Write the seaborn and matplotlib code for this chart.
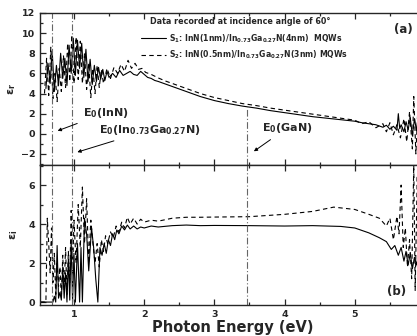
import numpy as np
import pandas as pd
import matplotlib
matplotlib.use("Agg")
import matplotlib.pyplot as plt
import seaborn as sns

# ---------------- data ----------------
er1_x = [0.60, 0.63, 0.66, 0.69, 0.72, 0.75, 0.78, 0.81, 0.84, 0.87, 0.90, 0.93, 0.96, 0.99,
         1.02, 1.05, 1.08, 1.11, 1.14, 1.17, 1.20, 1.23, 1.26, 1.29, 1.32, 1.35, 1.38, 1.41,
         1.44, 1.47, 1.50, 1.55, 1.60, 1.65, 1.70, 1.75, 1.80, 1.85, 1.90, 1.95, 2.00, 2.05,
         2.10, 2.15, 2.20, 2.30, 2.40, 2.50, 2.60, 2.70, 2.80, 2.90, 3.00, 3.20, 3.40, 3.60,
         3.80, 4.00, 4.20, 4.40, 4.60, 4.80, 5.00, 5.10, 5.20, 5.30, 5.40, 5.45, 5.50, 5.55,
         5.60, 5.62, 5.64, 5.66, 5.70, 5.73, 5.76, 5.79, 5.82, 5.85, 5.88, 5.91, 5.94, 5.97, 6.00]
er1_y = [4.5, 7.0, 5.0, 8.2, 4.2, 6.8, 4.8, 8.0, 5.5, 7.5, 4.8, 8.8, 6.0, 9.5,
         5.8, 9.3, 6.5, 9.0, 5.6, 8.4, 5.2, 7.4, 4.9, 6.8, 5.2, 6.6, 5.4, 6.4,
         5.3, 6.2, 5.6, 6.0, 5.6, 6.3, 5.8, 6.0, 6.2, 5.9, 5.8, 6.2, 5.9, 5.6,
         5.5, 5.3, 5.2, 4.95, 4.7, 4.45, 4.2, 3.95, 3.7, 3.5, 3.3, 3.0, 2.75, 2.55,
         2.3, 2.1, 1.9, 1.7, 1.55, 1.4, 1.25, 1.1, 1.0, 0.9, 0.65, 0.85, 0.45, 0.75,
         0.35, 2.0, 0.5, 0.9, 0.2, 1.2, 0.4, 1.6, -0.2, 1.5, 0.3, 1.8, 0.6, 1.2, 0.8]

er2_x = [0.58, 0.61, 0.64, 0.67, 0.70, 0.73, 0.76, 0.79, 0.82, 0.85, 0.88, 0.91, 0.94, 0.97,
         1.00, 1.03, 1.06, 1.09, 1.12, 1.15, 1.18, 1.21, 1.24, 1.27, 1.30, 1.33, 1.36, 1.39,
         1.42, 1.47, 1.52, 1.57, 1.62, 1.67, 1.72, 1.77, 1.82, 1.87, 1.92, 1.97, 2.02, 2.10,
         2.20, 2.30, 2.40, 2.50, 2.60, 2.70, 2.80, 2.90, 3.00, 3.20, 3.40, 3.60, 3.80, 4.00,
         4.20, 4.40, 4.60, 4.80, 5.00, 5.10, 5.20, 5.30, 5.40, 5.45, 5.50, 5.55, 5.60, 5.65,
         5.70, 5.74, 5.78, 5.82, 5.84, 5.87, 5.90, 5.93, 5.96, 6.00]
er2_y = [4.0, 7.5, 3.8, 8.6, 3.5, 6.0, 3.2, 6.5, 4.2, 7.8, 4.6, 9.0, 5.2, 9.8,
         5.0, 9.6, 5.4, 9.2, 5.0, 8.0, 4.4, 7.0, 3.6, 6.5, 4.0, 6.8, 4.6, 6.4,
         5.0, 6.5, 5.5, 6.6, 6.0, 6.9, 6.2, 7.3, 6.5, 7.0, 6.4, 6.5, 6.1, 5.9,
         5.55, 5.25, 5.0, 4.75, 4.5, 4.25, 4.0, 3.8, 3.6, 3.3, 3.0, 2.8, 2.55, 2.35,
         2.15, 1.95, 1.75, 1.55, 1.35, 1.0, 1.2, 0.6, 1.0, 0.2, 1.1, -0.1, 0.9, -0.4,
         1.5, -0.8, 2.2, -1.5, 3.7, -2.0, 2.8, -0.5, 2.4, 0.5]

ei1_x = [0.52, 0.70, 0.72, 0.74, 0.76, 0.78, 0.80, 0.82, 0.84, 0.86, 0.88, 0.90, 0.92, 0.94,
         0.96, 0.98, 1.00, 1.02, 1.05, 1.08, 1.10, 1.12, 1.15, 1.18, 1.21, 1.25, 1.28, 1.31,
         1.34, 1.37, 1.40, 1.43, 1.46, 1.49, 1.52, 1.55, 1.58, 1.61, 1.64, 1.68, 1.72, 1.76,
         1.80, 1.85, 1.90, 1.95, 2.00, 2.10, 2.20, 2.40, 2.60, 2.80, 3.00, 3.50, 4.00, 4.40,
         4.80, 5.00, 5.20, 5.35, 5.45, 5.52, 5.57, 5.62, 5.66, 5.70, 5.73, 5.76, 5.79, 5.82,
         5.85, 5.88, 5.91, 5.94, 5.97, 6.00]
ei1_y = [0.0, 0.0, 0.3, 0.0, 2.9, 0.2, 0.5, 0.1, 1.8, 0.2, 1.5, 0.0, 2.2, 0.1,
         3.2, 0.0, 2.5, 0.0, 3.0, 0.0, 2.8, 0.0, 4.3, 3.5, 1.6, 3.8, 2.8, 1.2,
         0.0, 2.8, 2.4, 3.0, 2.5, 3.2, 2.9, 3.5, 3.2, 3.7, 3.5, 3.9, 3.7, 3.95,
         3.75, 3.9, 3.75, 3.85, 3.8, 3.9, 3.85, 3.92, 3.95, 3.92, 3.93, 3.92, 3.9, 3.92,
         3.88, 3.8, 3.55, 3.3, 3.1, 2.7, 2.9, 2.4, 2.8, 2.1, 2.6, 1.9, 2.5, 1.7,
         2.3, 1.9, 2.6, 2.0, 2.6, 2.2]

ei2_x = [0.52, 0.60, 0.62, 0.64, 0.66, 0.68, 0.70, 0.72, 0.74, 0.76, 0.78, 0.80, 0.82, 0.84,
         0.86, 0.88, 0.90, 0.92, 0.94, 0.96, 0.98, 1.00, 1.03, 1.06, 1.09, 1.12, 1.15, 1.18,
         1.21, 1.24, 1.27, 1.30, 1.33, 1.36, 1.39, 1.42, 1.45, 1.48, 1.52, 1.56, 1.60, 1.64,
         1.68, 1.72, 1.76, 1.80, 1.85, 1.90, 1.95, 2.00, 2.10, 2.20, 2.40, 2.60, 2.80, 3.00,
         3.50, 4.00, 4.40, 4.70, 5.00, 5.20, 5.35, 5.45, 5.50, 5.55, 5.60, 5.63, 5.66, 5.69,
         5.72, 5.75, 5.78, 5.81, 5.84, 5.86, 5.89, 5.92, 5.95, 5.98, 6.00]
ei2_y = [0.0, 0.0, 4.3, 3.0, 1.5, 3.8, 1.0, 2.5, 0.4, 2.0, 0.8, 1.8, 0.2, 2.4,
         0.6, 2.8, 0.4, 2.6, 1.0, 4.7, 1.5, 4.2, 2.0, 5.0, 2.8, 5.9, 3.0, 5.3,
         2.0, 4.2, 3.0, 2.0, 3.0, 1.8, 3.2, 2.6, 3.4, 3.0, 3.6, 3.3, 3.9, 3.6,
         4.1, 3.8, 4.35, 4.0, 4.3, 4.0, 4.25, 4.1, 4.2, 4.15, 4.3, 4.35, 4.35, 4.36,
         4.38, 4.5, 4.65, 4.87, 4.75, 4.5, 4.3, 3.9, 4.3, 3.2, 4.4, 3.5, 6.0, 2.8,
         3.8, 1.8, 3.2, 1.2, 7.0, 0.6, 6.5, 1.0, 5.0, 2.0, 4.0]

edge_x = [0.687, 0.97, 3.46]          # E0(InN), E0(InGaN), E0(GaN)
edge_labels = ["E$_0$(InN)", "E$_0$(In$_{0.73}$Ga$_{0.27}$N)", "E$_0$(GaN)"]
series_labels = ["S$_1$: InN(1nm)/In$_{0.73}$Ga$_{0.27}$N(4nm)  MQWs",
                 "S$_2$: InN(0.5nm)/In$_{0.73}$Ga$_{0.27}$N(3nm) MQWs"]

# ---------------- style ----------------
sns.set_style("ticks")
plt.rcParams["font.family"] = ["DejaVu Sans"]
plt.rcParams["font.weight"] = "bold"
plt.rcParams["mathtext.default"] = "bf"
plt.rcParams["xtick.direction"] = "in"
plt.rcParams["ytick.direction"] = "in"

W, H = 417, 336
fig = plt.figure(figsize=(W / 100, H / 100), dpi=100)

def fx(px):
    return px / W

def fy(py):
    return 1 - py / H

axL, axR = 40, 425
ax1 = fig.add_axes([fx(axL), fy(165), fx(axR - axL), (165 - 13) / H])
ax2 = fig.add_axes([fx(axL), fy(305), fx(axR - axL), (305 - 165) / H])

lw = 0.8
df1 = pd.DataFrame({"x": er1_x, "y": er1_y})
df2 = pd.DataFrame({"x": er2_x, "y": er2_y})
df3 = pd.DataFrame({"x": ei1_x, "y": ei1_y})
df4 = pd.DataFrame({"x": ei2_x, "y": ei2_y})

sns.lineplot(data=df1, x="x", y="y", ax=ax1, color="black", lw=lw, estimator=None,
             label=series_labels[0])
sns.lineplot(data=df2, x="x", y="y", ax=ax1, color="black", lw=lw, estimator=None,
             linestyle=(0, (4, 3)), label=series_labels[1])
sns.lineplot(data=df3, x="x", y="y", ax=ax2, color="black", lw=lw, estimator=None)
sns.lineplot(data=df4, x="x", y="y", ax=ax2, color="black", lw=lw, estimator=None,
             linestyle=(0, (4, 3)))

xmin, xmax = 0.516, 6.0
ax1.set_xlim(xmin, xmax)
ax2.set_xlim(xmin, xmax)
ax1.set_ylim(-3.1, 12)
ax2.set_ylim(-0.15, 7.03)

# vertical band-gap lines
vl = dict(color="#666666", lw=0.8, linestyle=(0, (6, 2, 1, 2)))
ax1.axvline(edge_x[0], **vl)
ax1.axvline(edge_x[1], **vl)
ax1.vlines(edge_x[2], -3.1, 2.7, **vl)
for xv in edge_x:
    ax2.axvline(xv, **vl)

# ticks
from matplotlib.ticker import MultipleLocator
for ax in (ax1, ax2):
    ax.xaxis.set_major_locator(MultipleLocator(1))
    ax.xaxis.set_minor_locator(MultipleLocator(0.5))
    ax.tick_params(which="both", top=True, right=False, direction="in", width=0.9)
    ax.tick_params(which="major", length=4, labelsize=6.8)
    ax.tick_params(which="minor", length=2)
    for s in ("left", "bottom", "top"):
        ax.spines[s].set_linewidth(1.0)
    ax.spines["right"].set_visible(False)
    for lab in ax.get_xticklabels() + ax.get_yticklabels():
        lab.set_fontweight("bold")

ax1.yaxis.set_major_locator(MultipleLocator(2))
ax1.yaxis.set_minor_locator(MultipleLocator(1))
ax2.yaxis.set_major_locator(MultipleLocator(2))
ax2.yaxis.set_minor_locator(MultipleLocator(1))
ax1.set_xticks([1, 2, 3, 4, 5])
ax2.set_xticks([1, 2, 3, 4, 5])
ax1.tick_params(labelbottom=False)
ax1.set_xlabel("")
ax2.set_xlabel("Photon Energy (eV)", fontsize=10.5, fontweight="bold", labelpad=1)
ax1.set_ylabel(r"$\varepsilon_r$", fontsize=8, labelpad=2)
ax2.set_ylabel(r"$\varepsilon_i$", fontsize=8, labelpad=6)

# legend
leg = ax1.legend(loc="upper left", bbox_to_anchor=(0.255, 0.895), frameon=False,
                 fontsize=5.6, handlelength=3.2, handletextpad=0.4, labelspacing=0.55,
                 borderaxespad=0)
ax1.text(0.285, 0.915, "Data recorded at incidence angle of 60°", transform=ax1.transAxes,
         fontsize=5.8, fontweight="bold", va="bottom", ha="left")
ax1.text(0.945, 0.89, "(a)", transform=ax1.transAxes, fontsize=8.5, fontweight="bold",
         ha="center", va="center")
ax2.text(0.925, 0.10, "(b)", transform=ax2.transAxes, fontsize=8.5, fontweight="bold",
         ha="center", va="center")

# annotations
arr = dict(arrowstyle="-|>", color="black", lw=0.7, mutation_scale=5)
ax1.annotate(edge_labels[0], xy=(0.73, 0.2), xytext=(1.13, 2.1), fontsize=8,
             fontweight="bold", va="center", ha="left", arrowprops=arr)
ax1.annotate(edge_labels[1], xy=(1.01, -1.9), xytext=(1.36, 0.4), fontsize=8,
             fontweight="bold", va="center", ha="left", arrowprops=arr)
ax1.annotate(edge_labels[2], xy=(3.53, -1.9), xytext=(3.68, 0.6), fontsize=8,
             fontweight="bold", va="center", ha="left", arrowprops=arr)

fig.savefig("out.png", dpi=100)
